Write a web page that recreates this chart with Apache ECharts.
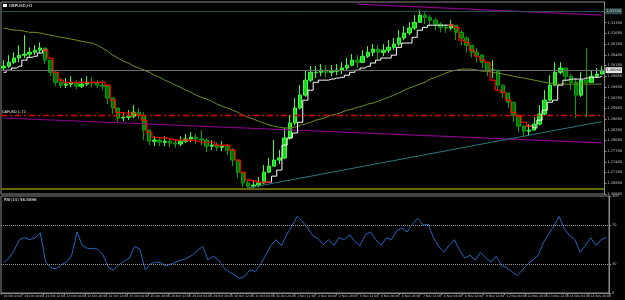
<!DOCTYPE html>
<html>
<head>
<meta charset="utf-8">
<style>
  html, body { margin: 0; padding: 0; background: #000; }
  #chart { width: 625px; height: 300px; }
</style>
<script src="https://cdn.jsdelivr.net/npm/echarts@6/dist/echarts.min.js"></script>
</head>
<body>
<div id="chart"></div>
<script>
// GBPUSD H1, grouped 4 bars per point
const tickLabels = [
  "19 Oct 2018", "19 Oct 20:00", "22 Oct 12:00", "23 Oct 04:00", "23 Oct 20:00",
  "24 Oct 12:00", "25 Oct 04:00", "25 Oct 20:00", "26 Oct 12:00", "29 Oct 04:00",
  "29 Oct 20:00", "30 Oct 12:00", "31 Oct 04:00", "31 Oct 20:00", "1 Nov 12:00",
  "2 Nov 04:00", "2 Nov 20:00", "5 Nov 12:00", "6 Nov 04:00", "6 Nov 20:00",
  "7 Nov 12:00", "8 Nov 04:00", "8 Nov 20:00", "9 Nov 12:00", "12 Nov 04:00",
  "12 Nov 20:00", "13 Nov 12:00", "14 Nov 04:00", "14 Nov 20:00"
];

const firstOpen = 1.3011;
const closePrices = [
  1.3016, 1.3027, 1.3039, 1.3047, 1.3050, 1.3055, 1.3061, 1.3067, 1.3033, 1.2999,
  1.2971, 1.2963, 1.2966, 1.2969, 1.2960, 1.2966, 1.2971, 1.2969, 1.2963, 1.2960,
  1.2927, 1.2899, 1.2871, 1.2873, 1.2876, 1.2887, 1.2879, 1.2837, 1.2806, 1.2809,
  1.2803, 1.2806, 1.2801, 1.2798, 1.2806, 1.2812, 1.2817, 1.2812, 1.2809, 1.2792,
  1.2795, 1.2789, 1.2792, 1.2781, 1.2753, 1.2719, 1.2689, 1.2680, 1.2683, 1.2689,
  1.2719, 1.2736, 1.2753, 1.2759, 1.2815, 1.2857, 1.2899, 1.2935, 1.2977, 1.2999,
  1.2999, 1.3005, 1.2999, 1.3002, 1.3005, 1.3011, 1.3019, 1.3033, 1.3027, 1.3044,
  1.3055, 1.3064, 1.3055, 1.3061, 1.3069, 1.3078, 1.3095, 1.3109, 1.3123, 1.3139,
  1.3159, 1.3153, 1.3145, 1.3134, 1.3125, 1.3123, 1.3131, 1.3111, 1.3095, 1.3075,
  1.3055, 1.3047, 1.3027, 1.3005, 1.3005, 1.2963, 1.2941, 1.2915, 1.2879, 1.2848,
  1.2834, 1.2837, 1.2854, 1.2882, 1.2921, 1.2963, 1.2999, 1.3011, 1.2988, 1.2971,
  1.2935, 1.2977, 1.2971, 1.2988, 1.2994, 1.3005
];
const highPrices = [
  1.3033, 1.3047, 1.3055, 1.3075, 1.3103, 1.3069, 1.3075, 1.3083, 1.3067, 1.3033,
  1.3005, 1.2983, 1.2983, 1.2988, 1.2977, 1.2983, 1.2988, 1.2985, 1.2977, 1.2977,
  1.2963, 1.2927, 1.2899, 1.2887, 1.2893, 1.2907, 1.2899, 1.2887, 1.2837, 1.2820,
  1.2817, 1.2820, 1.2815, 1.2812, 1.2820, 1.2826, 1.2831, 1.2826, 1.2837, 1.2815,
  1.2809, 1.2803, 1.2806, 1.2798, 1.2787, 1.2753, 1.2719, 1.2697, 1.2697, 1.2705,
  1.2739, 1.2759, 1.2809, 1.2781, 1.2843, 1.2879, 1.2927, 1.2963, 1.3005, 1.3016,
  1.3016, 1.3022, 1.3019, 1.3019, 1.3022, 1.3027, 1.3039, 1.3050, 1.3047, 1.3061,
  1.3072, 1.3078, 1.3075, 1.3078, 1.3089, 1.3095, 1.3117, 1.3128, 1.3139, 1.3159,
  1.3173, 1.3167, 1.3159, 1.3151, 1.3139, 1.3134, 1.3145, 1.3131, 1.3117, 1.3100,
  1.3075, 1.3067, 1.3050, 1.3027, 1.3033, 1.3005, 1.2963, 1.2941, 1.2915, 1.2879,
  1.2851, 1.2854, 1.2873, 1.2907, 1.2949, 1.2991, 1.3027, 1.3027, 1.3011, 1.2994,
  1.2983, 1.2999, 1.3067, 1.3005, 1.3011, 1.3016
];
const lowPrices = [
  1.3005, 1.3011, 1.3022, 1.3027, 1.3039, 1.3041, 1.3047, 1.3053, 1.3022, 1.2988,
  1.2960, 1.2955, 1.2955, 1.2957, 1.2952, 1.2955, 1.2960, 1.2957, 1.2955, 1.2949,
  1.2910, 1.2882, 1.2859, 1.2862, 1.2865, 1.2871, 1.2868, 1.2809, 1.2795, 1.2792,
  1.2792, 1.2792, 1.2789, 1.2787, 1.2792, 1.2801, 1.2803, 1.2798, 1.2795, 1.2775,
  1.2781, 1.2778, 1.2778, 1.2767, 1.2736, 1.2703, 1.2677, 1.2675, 1.2675, 1.2677,
  1.2685, 1.2719, 1.2736, 1.2742, 1.2755, 1.2810, 1.2850, 1.2895, 1.2930, 1.2972,
  1.2983, 1.2988, 1.2985, 1.2988, 1.2991, 1.2994, 1.3005, 1.3016, 1.3011, 1.3027,
  1.3039, 1.3044, 1.3033, 1.3044, 1.3053, 1.3061, 1.3072, 1.3089, 1.3103, 1.3117,
  1.3139, 1.3134, 1.3128, 1.3117, 1.3111, 1.3109, 1.3117, 1.3089, 1.3075, 1.3055,
  1.3041, 1.3027, 1.3011, 1.2988, 1.2983, 1.2949, 1.2927, 1.2899, 1.2859, 1.2831,
  1.2820, 1.2820, 1.2837, 1.2850, 1.2878, 1.2918, 1.2960, 1.2994, 1.2971, 1.2949,
  1.2871, 1.2930, 1.2873, 1.2971, 1.2983, 1.2994
];

const maValues = [
  1.3123, 1.3120, 1.3117, 1.3117, 1.3114, 1.3111, 1.3111, 1.3109, 1.3106, 1.3103,
  1.3100, 1.3097, 1.3095, 1.3092, 1.3089, 1.3086, 1.3083, 1.3081, 1.3075, 1.3067,
  1.3058, 1.3047, 1.3039, 1.3030, 1.3025, 1.3016, 1.3011, 1.3005, 1.2999, 1.2991,
  1.2985, 1.2977, 1.2971, 1.2963, 1.2957, 1.2949, 1.2943, 1.2935, 1.2929, 1.2924,
  1.2918, 1.2910, 1.2904, 1.2899, 1.2893, 1.2887, 1.2879, 1.2873, 1.2868, 1.2862,
  1.2857, 1.2851, 1.2848, 1.2845, 1.2843, 1.2843, 1.2845, 1.2851, 1.2854, 1.2859,
  1.2865, 1.2868, 1.2873, 1.2879, 1.2882, 1.2887, 1.2893, 1.2896, 1.2901, 1.2904,
  1.2910, 1.2913, 1.2918, 1.2924, 1.2929, 1.2935, 1.2941, 1.2949, 1.2955, 1.2960,
  1.2966, 1.2971, 1.2980, 1.2985, 1.2991, 1.2997, 1.3002, 1.3005, 1.3008, 1.3008,
  1.3008, 1.3005, 1.3002, 1.3002, 1.2999, 1.2997, 1.2994, 1.2991, 1.2988, 1.2985,
  1.2983, 1.2980, 1.2977, 1.2974, 1.2971, 1.2969, 1.2966, 1.2966, 1.2966, 1.2966,
  1.2966, 1.2966, 1.2966, 1.2966, 1.2966, 1.2966
];

// trailing stop line, red while falling
const stopValues = [
  1.2999, 1.3005, 1.3011, 1.3016, 1.3033, 1.3041, 1.3044, 1.3053, 1.3061, 1.3039,
  1.2999, 1.2977, 1.2971, 1.2971, 1.2971, 1.2971, 1.2971, 1.2971, 1.2971, 1.2971,
  1.2963, 1.2921, 1.2887, 1.2885, 1.2885, 1.2885, 1.2879, 1.2865, 1.2831, 1.2817,
  1.2815, 1.2815, 1.2812, 1.2809, 1.2809, 1.2809, 1.2809, 1.2806, 1.2803, 1.2803,
  1.2803, 1.2795, 1.2795, 1.2795, 1.2781, 1.2753, 1.2719, 1.2697, 1.2694, 1.2691,
  1.2691, 1.2691, 1.2708, 1.2725, 1.2795, 1.2815, 1.2829, 1.2859, 1.2921, 1.2949,
  1.2971, 1.2977, 1.2977, 1.2980, 1.2983, 1.2985, 1.2991, 1.2999, 1.3005, 1.3011,
  1.3016, 1.3025, 1.3033, 1.3039, 1.3039, 1.3047, 1.3069, 1.3081, 1.3081, 1.3097,
  1.3117, 1.3125, 1.3131, 1.3131, 1.3131, 1.3131, 1.3131, 1.3125, 1.3089, 1.3083,
  1.3061, 1.3044, 1.3033, 1.3027, 1.2977, 1.2949, 1.2943, 1.2921, 1.2887, 1.2876,
  1.2859, 1.2848, 1.2843, 1.2865, 1.2893, 1.2915, 1.2921, 1.2963, 1.2977, 1.2980,
  1.2980, 1.2980, 1.2983, 1.2985, 1.2985, 1.2988
];
const downRanges = [[8, 51], [86, 101]];

const rsiValues = [
  31, 36, 44, 55, 57, 55, 57, 62, 32, 26,
  25, 29, 32, 39, 63, 49, 46, 46, 45, 39,
  26, 24, 29, 33, 36, 48, 45, 24, 30, 32,
  31, 28, 30, 32, 34, 36, 39, 44, 48, 34,
  38, 34, 26, 22, 19, 15, 17, 24, 22, 29,
  39, 49, 55, 49, 60, 69, 79, 74, 67, 59,
  56, 50, 55, 49, 57, 55, 60, 53, 49, 60,
  63, 55, 49, 57, 55, 64, 67, 63, 71, 77,
  70, 71, 57, 48, 42, 49, 55, 44, 36, 39,
  34, 42, 36, 32, 38, 28, 26, 22, 18, 24,
  30, 34, 39, 52, 61, 69, 79, 66, 59, 55,
  42, 49, 57, 49, 55, 57
];
const rsiLevels = [70, 30];

// trend lines: [point index, price]
const upperChannel = [[68, 1.3190], [115, 1.3159]];
const lowerChannel = [[0, 1.2871], [115, 1.2801]];
const tealLine = [[47, 1.2675], [115, 1.2861]];
const topLevel = 1.3170;
const bidPrice = 1.3005;
const redLevel = 1.2879;
const supportLevel = 1.2672;

const chart = echarts.init(document.getElementById("chart"));

const categories = closePrices.map((_, i) => String(i));
const candles = closePrices.map((c, i) => [
  i === 0 ? firstOpen : closePrices[i - 1], c, lowPrices[i], highPrices[i]
]);
const inDown = (i) => downRanges.some(([a, b]) => i >= a && i <= b);
const inUp = (i) => !downRanges.some(([a, b]) => i > a && i < b);
const stopWhite = stopValues.map((v, i) => (inUp(i) ? v : null));
const stopRed = stopValues.map((v, i) => (inDown(i) ? v : null));

const showTick = (i) => i === 0 || (i >= 4 && (i - 4) % 4 === 0);
const axisGray = "#8a8a8a";
const textGray = "#c8c8c8";
const font = "DejaVu Sans";

chart.setOption({
  backgroundColor: "#000",
  animation: false,
  textStyle: { fontFamily: font },
  grid: [
    { left: 1, right: 16, top: 2, height: 192, show: true, borderColor: axisGray, borderWidth: 1 },
    { left: 1, right: 16, top: 196, height: 97, show: true, borderColor: axisGray, borderWidth: 1 }
  ],
  xAxis: [
    {
      type: "category", gridIndex: 0, data: categories,
      axisLine: { show: false }, axisTick: { show: false }, axisLabel: { show: false }
    },
    {
      type: "category", gridIndex: 1, data: categories,
      axisLine: { lineStyle: { color: axisGray } },
      axisTick: { show: true, length: 2, interval: showTick, lineStyle: { color: axisGray } },
      axisLabel: {
        interval: showTick, fontSize: 3, color: textGray, align: "left", margin: 2,
        formatter: (v, i) => (i === 0 ? tickLabels[0] : tickLabels[(i - 4) / 4 + 1])
      }
    }
  ],
  yAxis: [
    {
      type: "value", gridIndex: 0, position: "right",
      min: 1.2658, max: 1.3196, interval: 0.003,
      splitLine: { show: false },
      axisLine: { show: true, lineStyle: { color: axisGray } },
      axisTick: { show: true, length: 2, lineStyle: { color: axisGray } },
      axisLabel: { fontSize: 3.5, color: textGray, margin: 3, showMaxLabel: false, formatter: (v) => v.toFixed(5) }
    },
    {
      type: "value", gridIndex: 1, position: "right", min: 0, max: 100,
      splitLine: { show: false },
      axisLine: { show: true, lineStyle: { color: axisGray } },
      axisTick: { show: true, length: 2, customValues: [0, 30, 70, 100], lineStyle: { color: axisGray } },
      axisLabel: { fontSize: 3.5, color: textGray, margin: 3, customValues: [0, 30, 70, 100] }
    }
  ],
  graphic: [
    { type: "rect", left: 3, top: 4, shape: { width: 4, height: 3 }, style: { fill: "#ffffff" } },
    { type: "text", left: 9, top: 3.5, style: { text: "GBPUSD,H1", fill: "#ffffff", font: "4px DejaVu Sans" } },
    { type: "text", left: 4, top: 198, style: { text: "RSI(14) 56.5896", fill: "#ffffff", font: "4px DejaVu Sans" } }
  ],
  series: [
    {
      name: "levels", type: "line", data: [], xAxisIndex: 0, yAxisIndex: 0,
      markLine: {
        silent: true, symbol: "none", precision: 5,
        data: [
          {
            yAxis: topLevel, lineStyle: { color: "#2f4f4f", type: "solid", width: 1 },
            label: { position: "end", distance: 1, formatter: topLevel.toFixed(5), fontSize: 3.5,
              color: "#d0d0d0", backgroundColor: "#2f4f4f", padding: [1, 1] }
          },
          {
            yAxis: bidPrice, lineStyle: { color: "#6e6e6e", type: "solid", width: 1 },
            label: { position: "end", distance: 1, formatter: bidPrice.toFixed(5), fontSize: 3.5,
              color: "#000", backgroundColor: "#e8e8e8", padding: [1, 1] }
          },
          {
            yAxis: redLevel, lineStyle: { color: "#e00000", type: [6, 3, 2, 3], width: 1.4 },
            label: { position: "insideStartTop", distance: 1, formatter: "GBPUSD 1.72", fontSize: 3.5, color: "#ffffff" }
          },
          {
            yAxis: supportLevel, lineStyle: { color: "#8b8b00", type: "solid", width: 1.5 },
            label: { show: false }
          }
        ]
      }
    },
    {
      name: "price", type: "candlestick", xAxisIndex: 0, yAxisIndex: 0, data: candles, barWidth: "75%",
      itemStyle: { color: "#1ed21e", color0: "#007000", borderColor: "#40ff40", borderColor0: "#00a800", borderWidth: 1 }
    },
    {
      name: "ma", type: "line", xAxisIndex: 0, yAxisIndex: 0, data: maValues, symbol: "none",
      lineStyle: { color: "#6b8e23", width: 1 }
    },
    {
      name: "upper", type: "line", xAxisIndex: 0, yAxisIndex: 0, data: upperChannel, symbol: "none",
      lineStyle: { color: "#8b008b", width: 1.2 }
    },
    {
      name: "lower", type: "line", xAxisIndex: 0, yAxisIndex: 0, data: lowerChannel, symbol: "none",
      lineStyle: { color: "#8b008b", width: 1.2 }
    },
    {
      name: "teal", type: "line", xAxisIndex: 0, yAxisIndex: 0, data: tealLine, symbol: "none",
      lineStyle: { color: "#2a7a7a", width: 1 }
    },
    {
      name: "stopUp", type: "line", xAxisIndex: 0, yAxisIndex: 0, data: stopWhite, symbol: "none",
      step: "middle", lineStyle: { color: "#ffffff", width: 1 }
    },
    {
      name: "stopDown", type: "line", xAxisIndex: 0, yAxisIndex: 0, data: stopRed, symbol: "none",
      step: "middle", lineStyle: { color: "#ff0000", width: 1.2 }
    },
    {
      name: "RSI(14)", type: "line", xAxisIndex: 1, yAxisIndex: 1, data: rsiValues, symbol: "none",
      lineStyle: { color: "#2266c0", width: 1 },
      markLine: {
        silent: true, symbol: "none", label: { show: false },
        lineStyle: { color: "#9a9a9a", type: "dotted", width: 1 },
        data: rsiLevels.map((v) => ({ yAxis: v }))
      }
    }
  ]
});
</script>
</body>
</html>
